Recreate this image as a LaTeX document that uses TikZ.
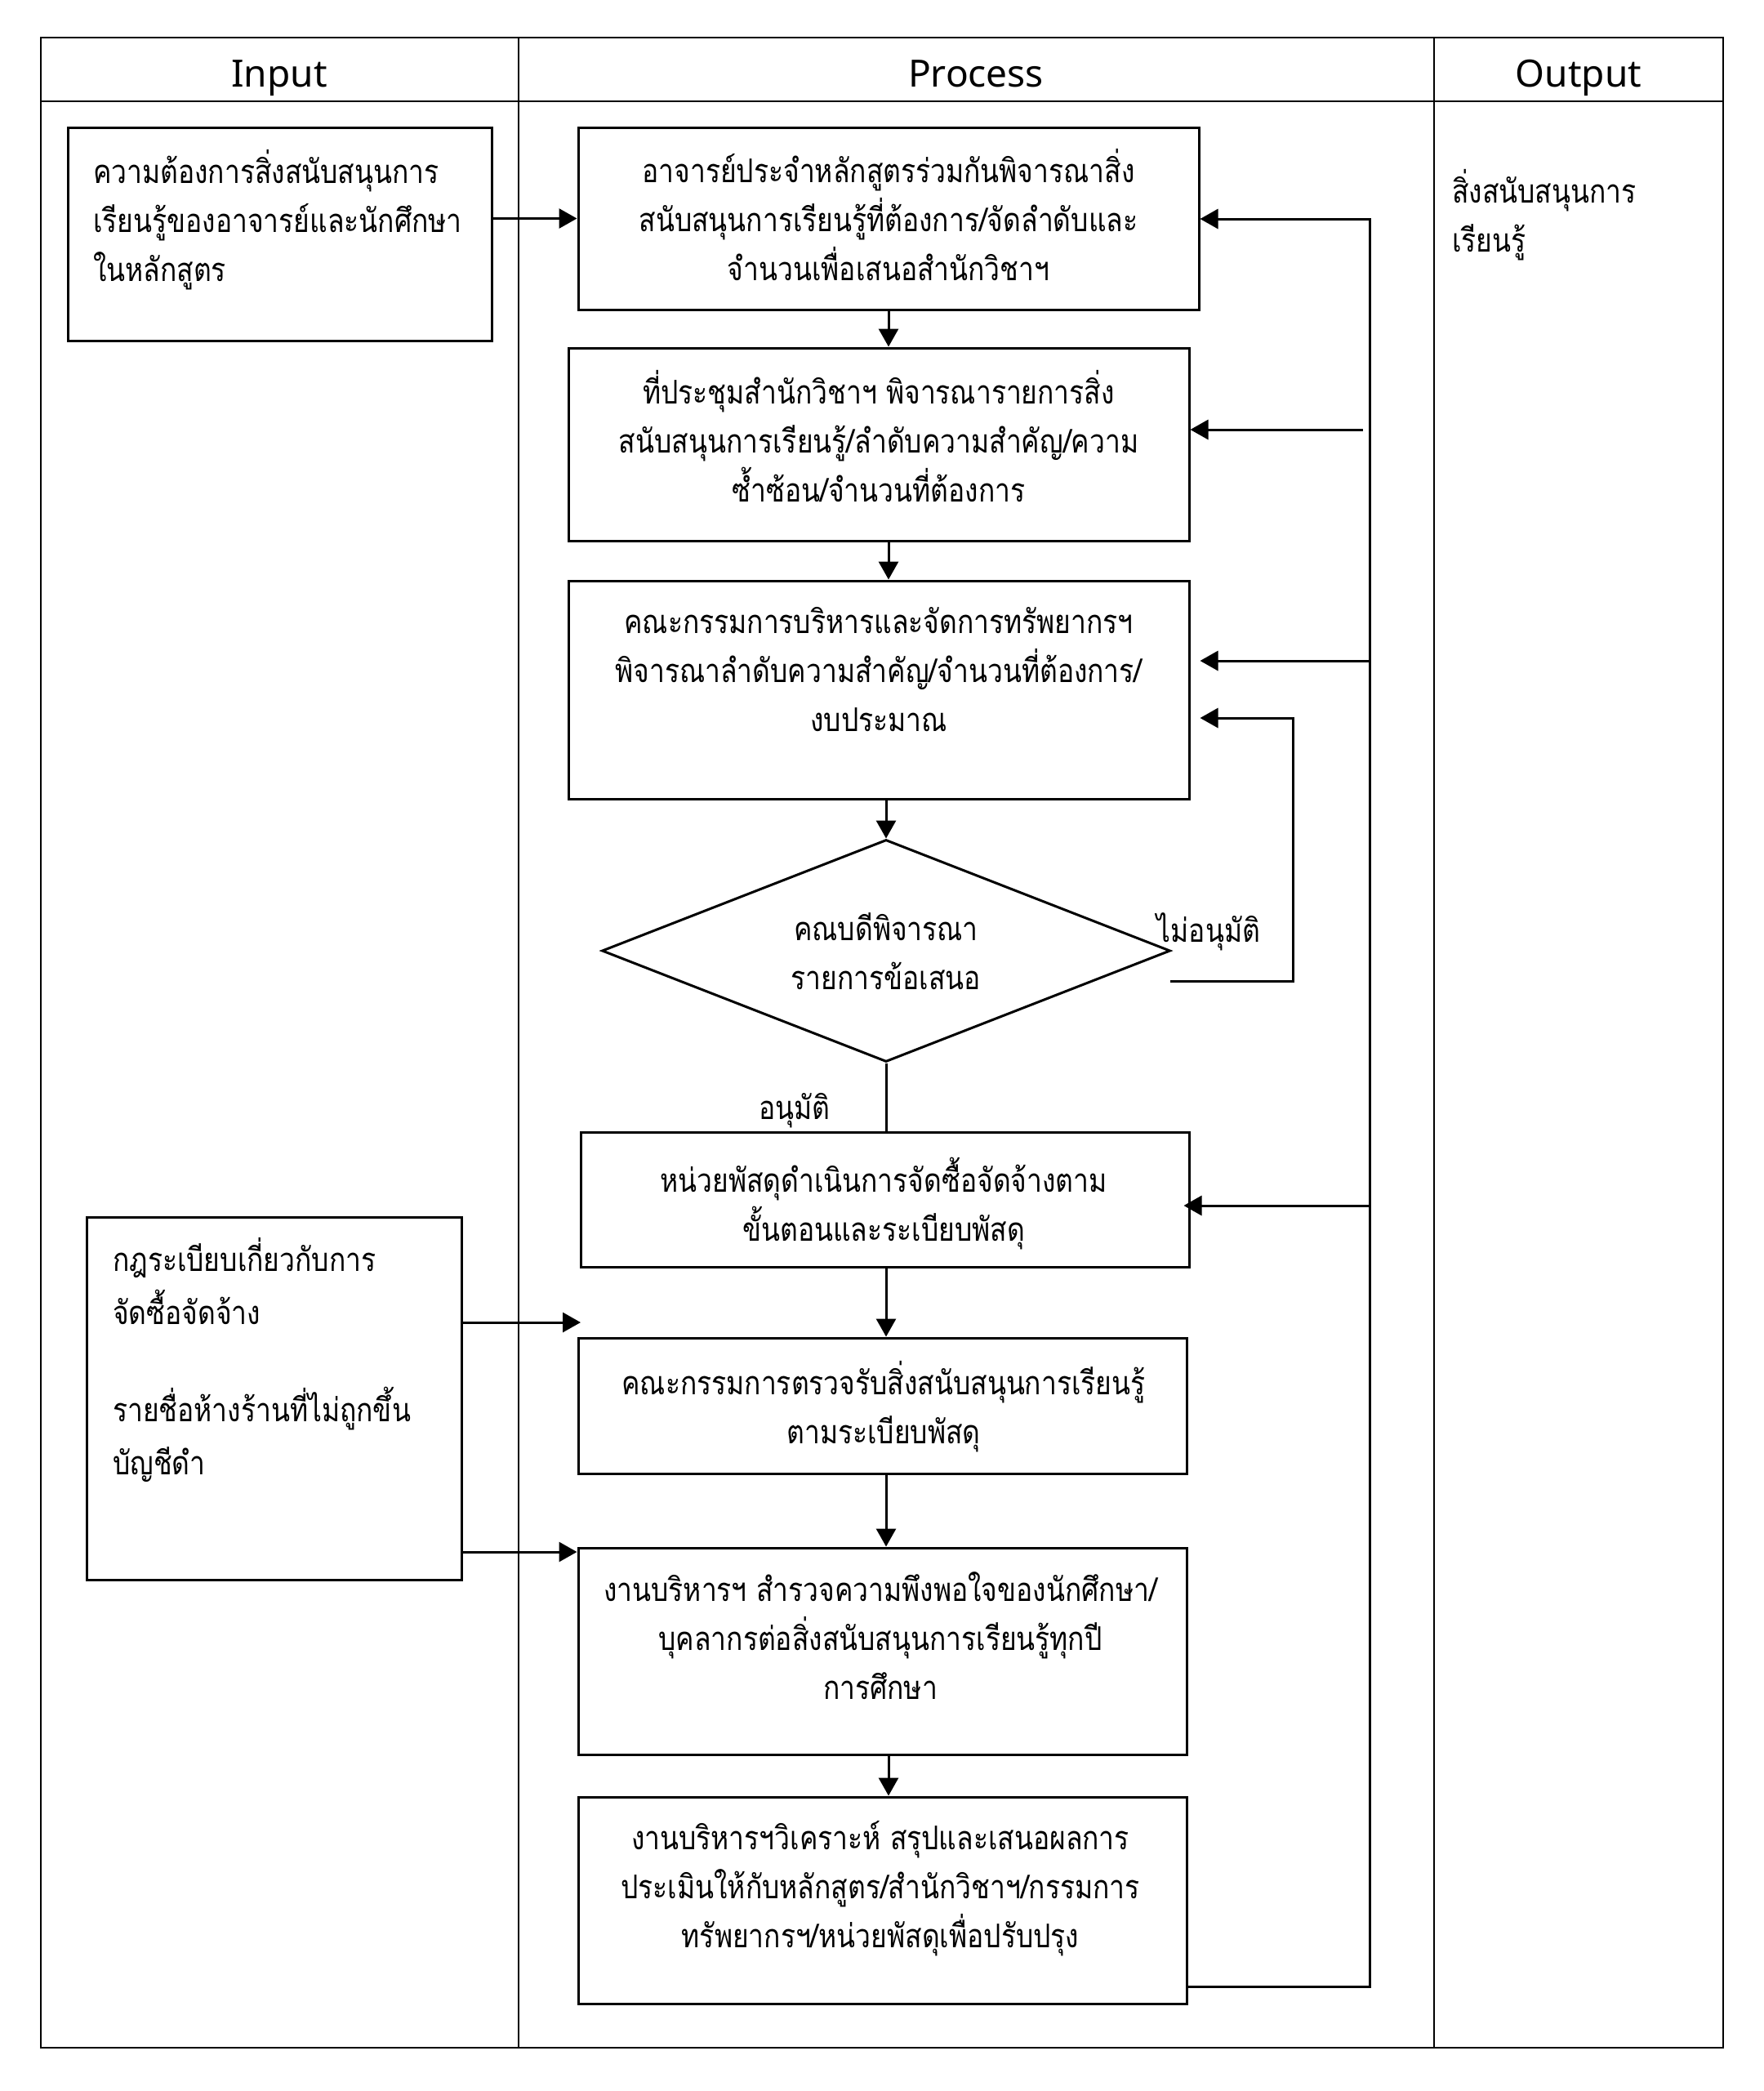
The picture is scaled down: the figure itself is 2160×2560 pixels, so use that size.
\documentclass[tikz,border=0pt]{standalone}
\usepackage{fontspec}
\newfontfamily\thai[Script=Thai,FakeStretch=0.84]{Loma}
\newfontfamily\hdr{Noto Sans}
\usetikzlibrary{arrows.meta,shapes.geometric}
\begin{document}
\begin{tikzpicture}[x=1pt,y=-1pt,
  frame/.style={line width=2pt},
  box/.style={draw, line width=3pt, inner sep=0pt, rectangle},
  dbox/.style={draw, line width=3pt, inner sep=0pt, diamond},
  txt/.style={font=\thai\fontsize{40}{60}\selectfont, align=center, inner sep=0pt, yshift=-4pt,
    execute at begin node=\strut, execute at end node=\strut},
  ltxt/.style={txt, align=left, anchor=west},
  hd/.style={font=\hdr\fontsize{46}{52}\selectfont, inner sep=0pt, anchor=base},
  conn/.style={line width=3pt},
  arr/.style={line width=3pt, -{Triangle[length=22pt,width=24pt]}}]
\useasboundingbox (0,0) rectangle (2160,2560);
\fill[white] (0,0) rectangle (2160,2560);
% frame
\draw[frame] (50,46) rectangle (2110,2507);
\draw[frame] (50,124) -- (2110,124);
\draw[frame] (635,46) -- (635,2507);
\draw[frame] (1756,46) -- (1756,2507);
\node[hd] (hin) at (342,106) {Input};
\node[hd] (hpr) at (1195,106) {Process};
\node[hd] (hout) at (1933,106) {Output};
% boxes
\node[box, minimum width=519pt, minimum height=261pt] (in1) at (342.5,286.5) {};
\node[box, minimum width=760pt, minimum height=223pt] (p1) at (1088,267.5) {};
\node[box, minimum width=760pt, minimum height=236pt] (p2) at (1076,544) {};
\node[box, minimum width=760pt, minimum height=267pt] (p3) at (1076,844.5) {};
\node[dbox, minimum width=696pt, minimum height=272pt] (dia) at (1085,1164) {};
\node[box, minimum width=745pt, minimum height=165pt] (p4) at (1083.5,1468.5) {};
\node[box, minimum width=745pt, minimum height=166pt] (p5) at (1080.5,1721) {};
\node[box, minimum width=745pt, minimum height=253pt] (p6) at (1080.5,2021.5) {};
\node[box, minimum width=745pt, minimum height=253pt] (p7) at (1080.5,2326.5) {};
\node[box, minimum width=459pt, minimum height=444pt] (in2) at (335.5,1712) {};
% texts
\node[ltxt] (in1t) at (114,268.5) {ความต้องการสิ่งสนับสนุนการ\\เรียนรู้ของอาจารย์และนักศึกษา\\ในหลักสูตร};
\node[txt] (p1t) at (1088,268) {อาจารย์ประจำหลักสูตรร่วมกันพิจารณาสิ่ง\\สนับสนุนการเรียนรู้ที่ต้องการ/จัดลำดับและ\\จำนวนเพื่อเสนอสำนักวิชาฯ};
\node[txt] (p2t) at (1076,539) {ที่ประชุมสำนักวิชาฯ พิจารณารายการสิ่ง\\สนับสนุนการเรียนรู้/ลำดับความสำคัญ/ความ\\ซ้ำซ้อน/จำนวนที่ต้องการ};
\node[txt] (p3t) at (1076,824) {คณะกรรมการบริหารและจัดการทรัพยากรฯ\\พิจารณาลำดับความสำคัญ/จำนวนที่ต้องการ/\\งบประมาณ};
\node[txt] (diat) at (1085,1170) {คณบดีพิจารณา\\รายการข้อเสนอ};
\node[txt] (p4t) at (1082,1473) {หน่วยพัสดุดำเนินการจัดซื้อจัดจ้างตาม\\ขั้นตอนและระเบียบพัสดุ};
\node[txt] (p5t) at (1082,1722) {คณะกรรมการตรวจรับสิ่งสนับสนุนการเรียนรู้\\ตามระเบียบพัสดุ};
\node[txt] (p6t) at (1078,2008) {งานบริหารฯ สำรวจความพึงพอใจของนักศึกษา/\\บุคลากรต่อสิ่งสนับสนุนการเรียนรู้ทุกปี\\การศึกษา};
\node[txt] (p7t) at (1078,2311.5) {งานบริหารฯวิเคราะห์ สรุปและเสนอผลการ\\ประเมินให้กับหลักสูตร/สำนักวิชาฯ/กรรมการ\\ทรัพยากรฯ/หน่วยพัสดุเพื่อปรับปรุง};
\node[ltxt, font=\thai\fontsize{40}{65}\selectfont] (in2a) at (138,1574.5) {กฎระเบียบเกี่ยวกับการ\\จัดซื้อจัดจ้าง};
\node[ltxt, font=\thai\fontsize{40}{65}\selectfont] (in2b) at (138,1757.5) {รายชื่อห้างร้านที่ไม่ถูกขึ้น\\บัญชีดำ};
\node[ltxt] (outt) at (1778,263) {สิ่งสนับสนุนการ\\เรียนรู้};
\node[txt] (lno) at (1480,1137) {ไม่อนุมัติ};
\node[txt] (lyes) at (973,1354) {อนุมัติ};
% connectors
\draw[arr] (in1.east |- p1.west) -- (p1.west);
\draw[arr] (p1.south) -- (p1.south |- p2.north);
\draw[arr] (p1.south |- p2.south) -- (p1.south |- p3.north);
\draw[arr] (dia.north |- p3.south) -- (dia.north);
\draw[conn] (dia.south) -- (dia.south |- p4.north);
\draw[arr] (dia.south |- p4.south) -- (dia.south |- p5.north);
\draw[arr] (dia.south |- p5.south) -- (dia.south |- p6.north);
\draw[arr] (p1.south |- p6.south) -- (p1.south |- p7.north);
% feedback line
\coordinate (fbtop) at (1677,268);
\coordinate (fbbot) at (1677,2432);
\draw[arr] (p7.east |- fbbot) -- (fbbot) -- (fbtop) -- (fbtop -| p1.east);
\coordinate (b2) at (1669,526);
\draw[arr] (b2) -- (b2 -| p2.east);
\coordinate (b3) at (1677,809);
\draw[arr] (b3) -- ([xshift=12pt]b3 -| p3.east);
\coordinate (b4) at (1677,1476);
\draw[arr] (b4) -- ([xshift=-8pt]b4 -| p4.east);
% not approved loop
\coordinate (nl0) at (1433,1201);
\coordinate (nl1) at (1583,1201);
\coordinate (nl2) at (1583,879);
\draw[arr] (nl0) -- (nl1) -- (nl2) -- ([xshift=12pt]nl2 -| p3.east);
% input2 arrows
\coordinate (i2a) at (711,1619);
\coordinate (i2b) at (711,1900);
\draw[arr] (in2.east |- i2a) -- (i2a);
\draw[arr] (in2.east |- i2b) -- (i2b -| p6.west);
\end{tikzpicture}
\end{document}
